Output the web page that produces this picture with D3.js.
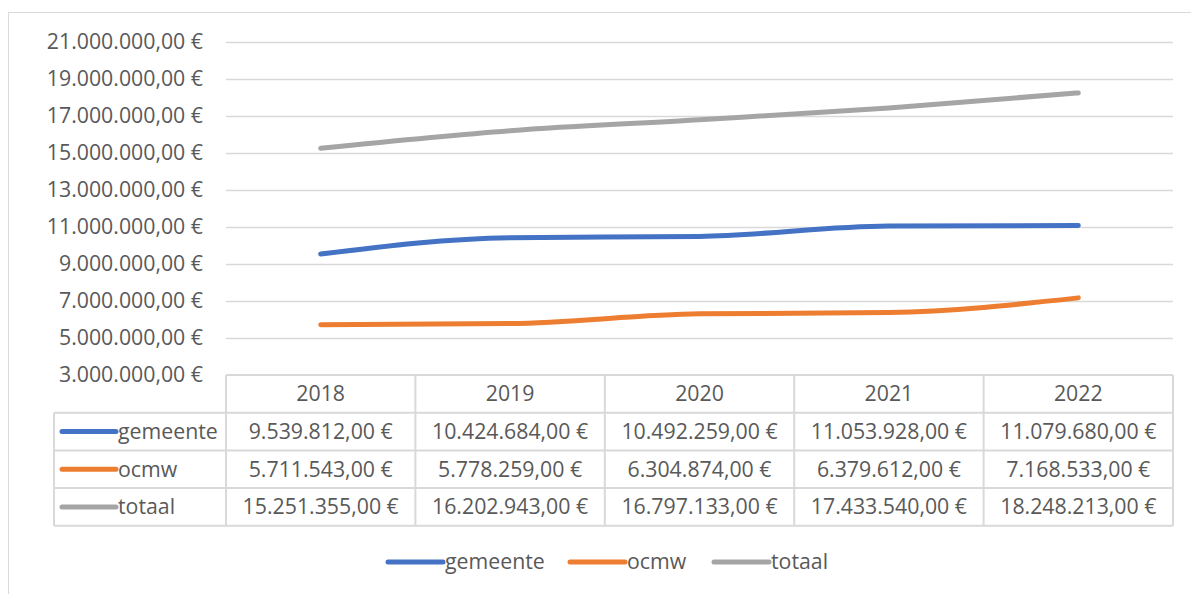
<!DOCTYPE html>
<html>
<head>
<meta charset="utf-8">
<script src="https://cdn.jsdelivr.net/npm/d3@7"></script>
<style>
  body { margin: 0; background: #fff; }
  text { font-family: "Open Sans", Lato, sans-serif; fill: #595959; }
</style>
</head>
<body>
<div id="chart"></div>
<script>
// data
var years = ["2018", "2019", "2020", "2021", "2022"];
var seriesNames = ["gemeente", "ocmw", "totaal"];
var gemeente = [9539812, 10424684, 10492259, 11053928, 11079680];
var ocmw = [5711543, 5778259, 6304874, 6379612, 7168533];
var totaal = [15251355, 16202943, 16797133, 17433540, 18248213];
var yTicks = [3000000, 5000000, 7000000, 9000000, 11000000, 13000000, 15000000, 17000000, 19000000, 21000000];
var colors = ["#4472c4", "#ed7d31", "#a5a5a5"];

var W = 1191, H = 594;
var plot = {left: 226, right: 1173, top: 42, bottom: 375};
var fs = "21.3px";

var svg = d3.select("#chart").append("svg")
    .attr("width", W).attr("height", H);

// chart border
svg.append("rect")
    .attr("x", 8.5).attr("y", 12.5)
    .attr("width", W).attr("height", H)
    .attr("fill", "none").attr("stroke", "#d9d9d9").attr("stroke-width", 1);

var x = d3.scaleBand().domain(years).range([plot.left, plot.right]);
var y = d3.scaleLinear().domain([3000000, 21000000]).range([plot.bottom, plot.top]);

// euro format, dutch style
var nl = d3.formatLocale({decimal: ",", thousands: ".", grouping: [3], currency: ["", " €"]});
var fmt = nl.format("$,.2f");

// gridlines
svg.append("g").selectAll("line")
    .data(yTicks.slice(1))
    .enter().append("line")
    .attr("x1", plot.left).attr("x2", plot.right)
    .attr("y1", function(d) { return Math.round(y(d)) + 0.5; })
    .attr("y2", function(d) { return Math.round(y(d)) + 0.5; })
    .attr("stroke", "#d9d9d9").attr("stroke-width", 1.5);

// y axis labels
svg.append("g").selectAll("text")
    .data(yTicks)
    .enter().append("text")
    .attr("x", 203)
    .attr("y", function(d) { return y(d); })
    .attr("dy", "0.35em")
    .attr("text-anchor", "end")
    .style("font-size", fs)
    .text(fmt);

// lines
var allSeries = [gemeente, ocmw, totaal];
var line = d3.line()
    .x(function(d, i) { return x(years[i]) + x.bandwidth() / 2; })
    .y(function(d) { return y(d); })
    .curve(d3.curveMonotoneX);

svg.append("g").selectAll("path")
    .data(allSeries)
    .enter().append("path")
    .attr("d", line)
    .attr("fill", "none")
    .attr("stroke", function(d, i) { return colors[i]; })
    .attr("stroke-width", 5)
    .attr("stroke-linecap", "round")
    .attr("stroke-linejoin", "round");

// data table
var rowH = 37.7;
var tableLeft = 54;
var tbl = svg.append("g");
var gridColor = "#d9d9d9";

// header row
tbl.selectAll(".hdr")
    .data(years)
    .enter().append("text")
    .attr("x", function(d) { return x(d) + x.bandwidth() / 2; })
    .attr("y", plot.bottom + rowH / 2)
    .attr("dy", "0.35em")
    .attr("text-anchor", "middle")
    .style("font-size", fs)
    .text(function(d) { return d; });

// data rows
allSeries.forEach(function(vals, r) {
    var cy = plot.bottom + rowH * (r + 1.5);
    tbl.selectAll(".cell" + r)
        .data(vals)
        .enter().append("text")
        .attr("x", function(d, i) { return x(years[i]) + x.bandwidth() / 2; })
        .attr("y", cy)
        .attr("dy", "0.35em")
        .attr("text-anchor", "middle")
        .style("font-size", fs)
        .text(fmt);
    tbl.append("line")
        .attr("x1", 62).attr("x2", 116)
        .attr("y1", cy).attr("y2", cy)
        .attr("stroke", colors[r]).attr("stroke-width", 5)
        .attr("stroke-linecap", "round");
    tbl.append("text")
        .attr("x", 118).attr("y", cy).attr("dy", "0.35em")
        .style("font-size", fs)
        .text(seriesNames[r]);
});

// table grid
var hLines = [0, 1, 2, 3, 4];
tbl.selectAll(".hl")
    .data(hLines)
    .enter().append("line")
    .attr("x1", function(d) { return d === 0 ? plot.left : tableLeft; })
    .attr("x2", plot.right)
    .attr("y1", function(d) { return plot.bottom + d * rowH; })
    .attr("y2", function(d) { return plot.bottom + d * rowH; })
    .attr("stroke", gridColor).attr("stroke-width", 2);

var vLines = years.map(function(d) { return x(d); }).concat([plot.right]);
tbl.selectAll(".vl")
    .data(vLines)
    .enter().append("line")
    .attr("x1", function(d) { return d; }).attr("x2", function(d) { return d; })
    .attr("y1", plot.bottom)
    .attr("y2", plot.bottom + 4 * rowH)
    .attr("stroke", gridColor).attr("stroke-width", 2);

tbl.append("line")
    .attr("x1", tableLeft).attr("x2", tableLeft)
    .attr("y1", plot.bottom + rowH).attr("y2", plot.bottom + 4 * rowH)
    .attr("stroke", gridColor).attr("stroke-width", 2);

// legend
var legendX = [388, 570, 714];
var legend = svg.append("g").selectAll("g")
    .data(seriesNames)
    .enter().append("g")
    .attr("transform", function(d, i) { return "translate(" + legendX[i] + ",562)"; });
legend.append("line")
    .attr("x1", 0).attr("x2", 55)
    .attr("stroke", function(d, i) { return colors[i]; })
    .attr("stroke-width", 5).attr("stroke-linecap", "round");
legend.append("text")
    .attr("x", 57).attr("dy", "0.35em")
    .style("font-size", fs)
    .text(function(d) { return d; });
</script>
</body>
</html>
